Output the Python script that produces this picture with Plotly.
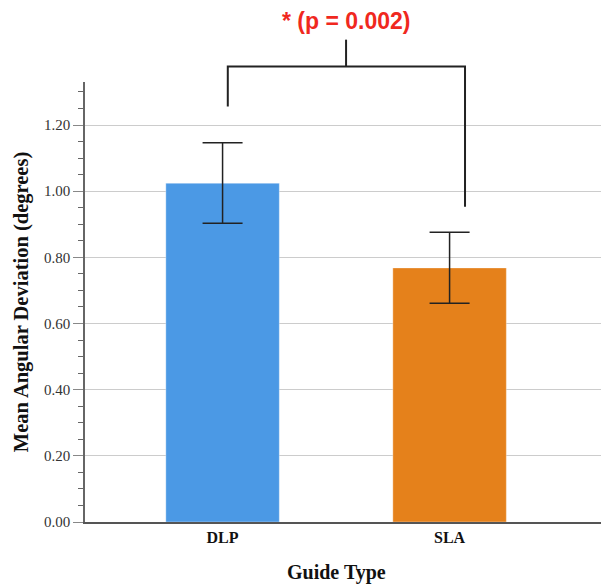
import plotly.graph_objects as go

# ---- data ----
categories = ["DLP", "SLA"]
means = [1.024, 0.768]
ci_upper = [1.146, 0.876]
ci_lower = [0.903, 0.661]
bar_colors = ["#4B99E5", "#E5811B"]
y_ticks = [0.0, 0.2, 0.4, 0.6, 0.8, 1.0, 1.2]
sig_label = "* (p = 0.002)"
x_title = "Guide Type"
y_title = "Mean Angular Deviation (degrees)"

# bracket definition in data units
bracket_left_x, bracket_right_x, bracket_mid_x = 0.023, 1.068, 0.544
bracket_left_bottom, bracket_right_bottom = 1.256, 0.953
bracket_top, bracket_mid_top, label_y = 1.377, 1.458, 1.515

x_range = [-0.606, 1.667]
y_range = [0, 1.33]

err_plus = [u - m for u, m in zip(ci_upper, means)]
err_minus = [m - l for m, l in zip(means, ci_lower)]

fig = go.Figure()
fig.add_trace(go.Bar(
    x=[0, 1], y=means, width=0.5,
    marker=dict(color=bar_colors, line=dict(color="rgba(255,255,255,0.35)", width=1)),
    error_y=dict(type="data", symmetric=False, array=err_plus, arrayminus=err_minus,
                 color="#222222", thickness=1.5, width=20),
    showlegend=False,
))

def px(x):
    return (x - x_range[0]) / (x_range[1] - x_range[0])

def py(y):
    return (y - y_range[0]) / (y_range[1] - y_range[0])

line = dict(color="#222222", width=2)
path = (f"M {px(bracket_left_x)},{py(bracket_left_bottom)} "
        f"L {px(bracket_left_x)},{py(bracket_top)} "
        f"L {px(bracket_right_x)},{py(bracket_top)} "
        f"L {px(bracket_right_x)},{py(bracket_right_bottom)}")
fig.add_shape(type="path", xref="paper", yref="paper", path=path, line=line)
fig.add_shape(type="line", xref="paper", yref="paper",
              x0=px(bracket_mid_x), x1=px(bracket_mid_x),
              y0=py(bracket_top), y1=py(bracket_mid_top), line=line)
fig.add_annotation(x=px(bracket_mid_x), y=py(label_y), xref="paper", yref="paper",
                   text=f"<b>{sig_label}</b>", showarrow=False,
                   font=dict(family="Liberation Sans", size=23, color="#F0281E"),
                   xanchor="center", yanchor="middle")

serif = "Liberation Serif"
# x-axis title (slightly left of the plot-area centre, as in the reference)
fig.add_annotation(x=0.488, y=-0.114, xref="paper", yref="paper",
                   text=f"<b>{x_title}</b>", showarrow=False,
                   font=dict(family=serif, size=20, color="#111111"),
                   xanchor="center", yanchor="middle")

fig.update_layout(
    width=601, height=584,
    margin=dict(l=85, r=0, t=82, b=62),
    plot_bgcolor="white", paper_bgcolor="white",
    xaxis=dict(
        range=x_range, tickmode="array", tickvals=[0, 1], ticktext=[f"<b>{c}</b>" for c in categories],
        tickfont=dict(family=serif, size=16, color="#111111"),
        showline=True, linecolor="#555555", linewidth=2, showgrid=False, ticks="",
        zeroline=False,
    ),
    yaxis=dict(
        range=y_range, tickmode="array", tickvals=y_ticks, tickformat=".2f",
        tickfont=dict(family=serif, size=15, color="#333333"),
        showline=True, linecolor="#666666", linewidth=1.5,
        showgrid=True, gridcolor="#CCCCCC", gridwidth=1, zeroline=False,
        ticks="outside", ticklen=10, tickcolor="#888888", tickwidth=1,
        minor=dict(dtick=0.05, tick0=0, ticks="outside", ticklen=5, tickcolor="#666666", showgrid=False),
        title=dict(text=f"<b>{y_title}</b>", font=dict(family=serif, size=20.5, color="#111111"), standoff=10),
    ),
)

fig.write_html("out.html")
